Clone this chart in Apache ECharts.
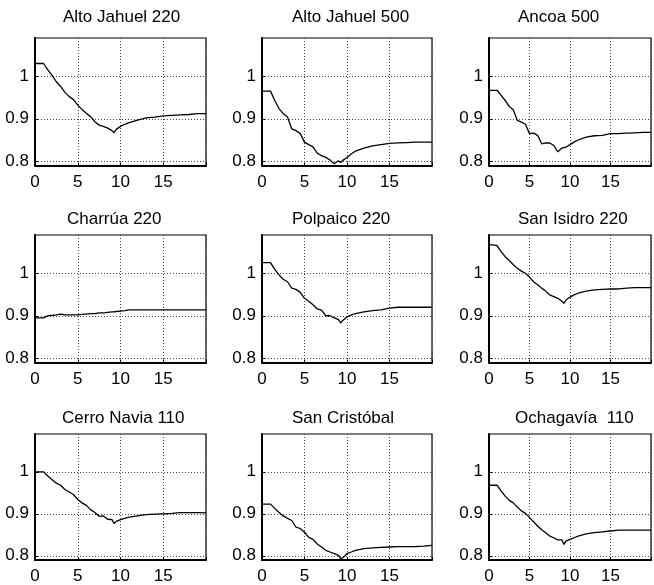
<!DOCTYPE html>
<html>
<head>
<meta charset="utf-8">
<script src="https://cdn.jsdelivr.net/npm/echarts@6/dist/echarts.min.js"></script>
<style>
  html, body { margin: 0; padding: 0; background: #fff; }
  #chart { width: 654px; height: 585px; }
</style>
</head>
<body>
<div id="chart"></div>
<script>
// Time axis shared by all nine stations
const time = [0,0.5,1,1.5,2,2.5,3,3.5,4,4.5,5,5.5,6,6.5,7,7.5,8,8.5,9,9.25,9.5,10,10.5,11,12,13,14,15,16,17,18,19,20];

// Voltage (p.u.) per station
const altoJahuel220 = [1.030,1.030,1.030,1.015,1.002,0.987,0.976,0.962,0.952,0.945,0.932,0.922,0.913,0.905,0.893,0.885,0.882,0.878,0.872,0.867,0.875,0.882,0.887,0.891,0.897,0.902,0.904,0.907,0.908,0.909,0.910,0.912,0.912];
const altoJahuel500 = [0.965,0.965,0.965,0.943,0.924,0.912,0.904,0.876,0.872,0.865,0.845,0.839,0.834,0.819,0.813,0.809,0.803,0.794,0.801,0.797,0.802,0.809,0.817,0.824,0.831,0.836,0.839,0.842,0.843,0.844,0.845,0.845,0.845];
const ancoa500 = [0.967,0.967,0.967,0.955,0.943,0.929,0.921,0.896,0.892,0.887,0.865,0.866,0.861,0.841,0.843,0.843,0.837,0.822,0.831,0.832,0.833,0.839,0.845,0.850,0.857,0.860,0.861,0.865,0.865,0.866,0.867,0.868,0.868];
const charrua220 = [0.895,0.895,0.895,0.900,0.901,0.902,0.904,0.902,0.902,0.902,0.902,0.903,0.904,0.905,0.905,0.907,0.907,0.908,0.909,0.909,0.910,0.911,0.912,0.914,0.914,0.914,0.914,0.914,0.914,0.914,0.914,0.914,0.914];
const polpaico220 = [1.025,1.025,1.025,1.009,0.996,0.986,0.980,0.965,0.962,0.955,0.941,0.934,0.926,0.916,0.913,0.900,0.900,0.895,0.891,0.883,0.889,0.897,0.902,0.905,0.909,0.912,0.914,0.918,0.920,0.920,0.920,0.920,0.920];
const sanIsidro220 = [1.067,1.067,1.065,1.051,1.039,1.030,1.020,1.012,1.005,1.000,0.991,0.980,0.973,0.965,0.958,0.949,0.945,0.941,0.934,0.929,0.937,0.944,0.949,0.953,0.958,0.961,0.962,0.963,0.963,0.965,0.966,0.966,0.966];
const cerroNavia110 = [1.000,1.000,1.000,0.990,0.981,0.973,0.968,0.958,0.952,0.946,0.934,0.926,0.920,0.910,0.903,0.894,0.895,0.887,0.886,0.877,0.882,0.886,0.889,0.892,0.895,0.898,0.899,0.900,0.901,0.903,0.903,0.903,0.902];
const sanCristobal = [0.923,0.923,0.923,0.913,0.903,0.895,0.889,0.884,0.868,0.865,0.856,0.844,0.839,0.828,0.821,0.813,0.809,0.805,0.801,0.793,0.795,0.805,0.809,0.813,0.817,0.819,0.820,0.821,0.822,0.822,0.822,0.823,0.825];
const ochagavia110 = [0.968,0.968,0.968,0.954,0.942,0.932,0.926,0.916,0.907,0.901,0.891,0.881,0.871,0.862,0.855,0.847,0.843,0.838,0.838,0.827,0.835,0.839,0.843,0.847,0.852,0.855,0.857,0.859,0.861,0.861,0.861,0.861,0.861];

const titles = ['Alto Jahuel 220', 'Alto Jahuel 500', 'Ancoa 500',
                'Charrúa 220', 'Polpaico 220', 'San Isidro 220',
                'Cerro Navia 110', 'San Cristóbal', 'Ochagavía  110'];
const stations = [altoJahuel220, altoJahuel500, ancoa500,
                  charrua220, polpaico220, sanIsidro220,
                  cerroNavia110, sanCristobal, ochagavia110];
const yTicks = [0.8, 0.9, 1];
const xTicks = [0, 5, 10, 15];

// panel geometry (px)
const colLeft = [35, 262, 489];
const colWidth = [171, 170, 169];
const rowTop = [38, 235, 434];
const rowHeight = [127.5, 127.5, 126];
const titleLeft = [[63, 292, 518], [67, 292, 518], [62, 292, 515]];
const titleTop = [9, 211, 410];

const FONT = '"Liberation Sans", Arial, sans-serif';
const dotted = { color: '#444', width: 1, type: [1, 2] };

const grid = [], xAxis = [], yAxis = [], series = [], title = [];
for (let i = 0; i < 9; i++) {
  const r = Math.floor(i / 3), c = i % 3;
  grid.push({
    left: colLeft[c], top: rowTop[r], width: colWidth[c], height: rowHeight[r],
    show: true, borderColor: '#000', borderWidth: 1.2, backgroundColor: '#fff'
  });
  title.push({
    text: titles[i], left: titleLeft[r][c], top: titleTop[r], padding: 0,
    textStyle: { fontFamily: FONT, fontSize: 17, fontWeight: 'normal', color: '#000' }
  });
  xAxis.push({
    type: 'value', gridIndex: i, min: 0, max: 20, interval: 5,
    axisLine: { show: true, onZero: false, lineStyle: { color: '#000', width: 2 } },
    axisTick: { show: true, inside: true, length: 3, lineStyle: { color: '#000' } },
    axisLabel: {
      margin: 8, color: '#000', fontFamily: FONT, fontSize: 17,
      formatter: v => (xTicks.indexOf(v) >= 0 ? String(v) : '')
    },
    splitLine: { show: true, lineStyle: dotted }
  });
  yAxis.push({
    type: 'value', gridIndex: i, min: 0.79, max: 1.09,
    axisLine: { show: true, onZero: false, lineStyle: { color: '#000', width: 2 } },
    axisTick: { show: true, inside: true, length: 3, customValues: yTicks, lineStyle: { color: '#000' } },
    axisLabel: {
      customValues: yTicks, margin: 6, color: '#000', fontFamily: FONT, fontSize: 17,
      formatter: v => String(+v.toFixed(2))
    },
    splitLine: { show: true, lineStyle: dotted }
  });
  series.push({
    type: 'line', xAxisIndex: i, yAxisIndex: i, symbol: 'none', silent: true,
    lineStyle: { color: '#000', width: 1.3 },
    data: time.map((t, k) => [t, stations[i][k]])
  });
}

const chart = echarts.init(document.getElementById('chart'), null, { renderer: 'canvas' });
chart.setOption({ animation: false, backgroundColor: '#fff', title, grid, xAxis, yAxis, series });
</script>
</body>
</html>
